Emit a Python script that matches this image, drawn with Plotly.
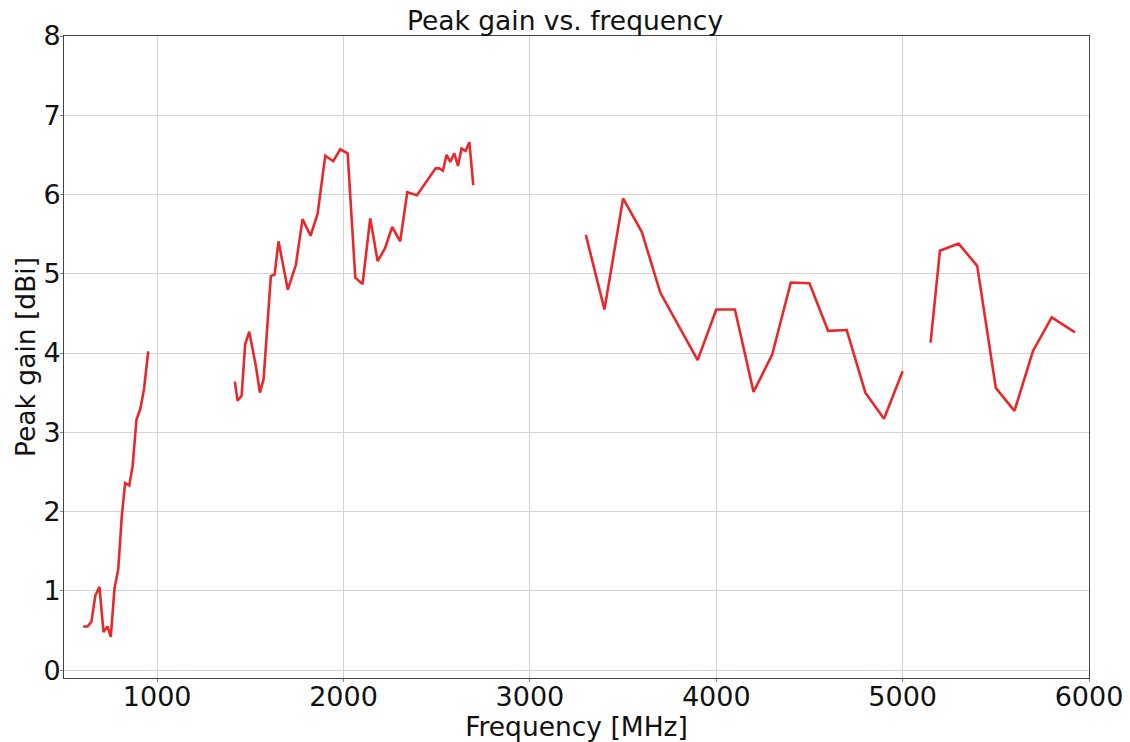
import plotly.graph_objects as go

# Segment 1 (low band)
freq_1 = [603, 626, 647, 668, 690, 712, 733, 751, 771, 791, 810, 828, 850, 868, 889, 909, 929, 952]
gain_1 = [0.55, 0.55, 0.61, 0.94, 1.05, 0.48, 0.55, 0.42, 1.03, 1.27, 1.94, 2.36, 2.33, 2.57, 3.16, 3.29, 3.54, 4.02]

# Segment 2 (mid band)
freq_2 = [1417, 1431, 1453, 1472, 1494, 1530, 1551, 1571, 1610, 1630, 1651, 1701, 1744, 1780,
          1823, 1861, 1902, 1945, 1982, 2022, 2063, 2102, 2143, 2183, 2222, 2261, 2304, 2342,
          2394, 2451, 2494, 2514, 2533, 2553, 2573, 2594, 2614, 2633, 2655, 2675, 2696]
gain_2 = [3.64, 3.40, 3.46, 4.11, 4.27, 3.83, 3.50, 3.67, 4.97, 4.99, 5.41, 4.80, 5.11, 5.69,
          5.48, 5.76, 6.49, 6.42, 6.57, 6.52, 4.95, 4.87, 5.70, 5.16, 5.32, 5.59, 5.41, 6.03,
          5.99, 6.18, 6.33, 6.33, 6.30, 6.50, 6.41, 6.52, 6.36, 6.58, 6.55, 6.66, 6.12]

# Segment 3
freq_3 = [3300, 3400, 3500, 3600, 3700, 3900, 4000, 4100, 4200, 4300, 4400, 4500, 4600, 4700, 4800, 4900, 5000]
gain_3 = [5.49, 4.55, 5.95, 5.53, 4.76, 3.91, 4.55, 4.55, 3.51, 3.98, 4.89, 4.88, 4.28, 4.29, 3.50, 3.17, 3.77]

# Segment 4 (high band)
freq_4 = [5150, 5200, 5300, 5400, 5500, 5600, 5700, 5800, 5925]
gain_4 = [4.13, 5.29, 5.38, 5.10, 3.56, 3.27, 4.03, 4.45, 4.26]

segments = [(freq_1, gain_1), (freq_2, gain_2), (freq_3, gain_3), (freq_4, gain_4)]

x_ticks = [1000, 2000, 3000, 4000, 5000, 6000]
y_ticks = [0, 1, 2, 3, 4, 5, 6, 7, 8]

FONT = "DejaVu Sans"
fig = go.Figure()
for fx, gy in segments:
    fig.add_trace(go.Scatter(x=fx, y=gy, mode="lines",
                             line=dict(color="#e8282b", width=2.6),
                             showlegend=False, hoverinfo="x+y"))

axis_common = dict(
    showgrid=True, gridcolor="#d4d4d4", gridwidth=1,
    showline=True, linecolor="#444444", linewidth=1, mirror=True,
    ticks="outside", ticklen=3, tickcolor="#888888", tickwidth=1,
    zeroline=False, automargin=False,
    tickfont=dict(family=FONT, size=27, color="#111111"),
)

fig.update_layout(
    width=1130, height=742,
    margin=dict(l=64, r=41, t=36, b=64),
    paper_bgcolor="white", plot_bgcolor="white",
    title=dict(text="Peak gain vs. frequency", x=0.5, xanchor="center",
               y=1 - 21 / 742, yanchor="middle", automargin=False,
               font=dict(family=FONT, size=26.5, color="#111111")),
    xaxis=dict(range=[500, 6000], tickvals=x_ticks, ticklabelstandoff=-8,
               title=dict(text="Frequency [MHz]", standoff=4,
                          font=dict(family=FONT, size=26.5, color="#111111")),
               **axis_common),
    yaxis=dict(range=[-0.1, 8], tickvals=y_ticks, ticklabelstandoff=-6,
               title=dict(text="Peak gain [dBi]", standoff=0,
                          font=dict(family=FONT, size=26.5, color="#111111")),
               **axis_common),
)

fig.write_html("out.html", config={"displayModeBar": False},
               post_script="document.body.style.margin='0';document.body.style.overflow='hidden';")
